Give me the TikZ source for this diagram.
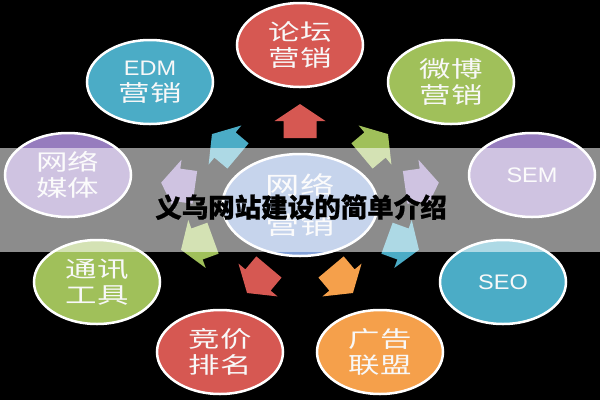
\documentclass[tikz,border=0pt]{standalone}
\usepackage{fontspec}
\usetikzlibrary{shapes.geometric}
\newfontfamily\cjk[FakeStretch=1.4]{Noto Sans CJK SC}
\newfontfamily\cjkt[BoldFeatures={FakeBold=0.8}]{Noto Sans CJK SC}
\newfontfamily\lat[FakeStretch=1.12]{Liberation Sans}
\definecolor{cred}{RGB}{214,88,82}
\definecolor{ccyan}{RGB}{75,172,198}
\definecolor{cgreen}{RGB}{160,192,90}
\definecolor{cpurple}{RGB}{150,124,190}
\definecolor{corange}{RGB}{245,160,75}
\definecolor{cblue}{RGB}{130,160,215}
\definecolor{ctext}{RGB}{248,248,248}
\tikzset{
  bub/.style={ellipse, draw=white, line width=2.5pt, minimum width=126, minimum height=84,
    inner sep=0pt, text=ctext, align=center, font=\cjk\fontsize{22.5}{25.5}\selectfont},
  hub/.style={bub, minimum width=155, minimum height=102, font=\cjk\fontsize{24.5}{40}\selectfont},
  latin/.style={font=\lat\fontsize{21}{25}\selectfont}
}
\newcommand\fatarrow[4]{\begin{scope}[shift={(#1,#2)},rotate=#3]
  \fill[#4] (-17,-16.5) -- (0,-16.5) -- (0,-25.5) -- (17,0) -- (0,25.5) -- (0,16.5) -- (-17,16.5) -- cycle;
\end{scope}}
\begin{document}
\begin{tikzpicture}[x=1pt,y=-1pt]
\fill[black] (0,0) rectangle (600,400);
\useasboundingbox (0,0) rectangle (600,400);
% block arrows from the hub
\fatarrow{300}{121}{90}{cred}
\fatarrow{225}{145}{140}{ccyan}
\fatarrow{375}{145}{40}{cgreen}
\fatarrow{178}{185}{172}{cpurple}
\fatarrow{422}{185}{8}{cpurple}
\fatarrow{197}{244}{200}{cgreen}
\fatarrow{403}{244}{-20}{ccyan}
\fatarrow{258}{280}{230}{cred}
\fatarrow{342}{280}{-50}{corange}
% outer circles
\node[bub, fill=cred] (luntan) at (300,45) {论坛\\营销};
\node[bub, fill=ccyan] (edm) at (150,82) {{\lat\fontsize{21}{25}\selectfont EDM}\\营销};
\node[bub, fill=cgreen] (weibo) at (451,82) {微博\\营销};
\node[bub, fill=cpurple] (meiti) at (68,175) {网络\\媒体};
\node[bub, fill=cpurple, latin] (sem) at (532,175) {SEM};
\node[bub, fill=cgreen] (tongxun) at (97,282) {通讯\\工具};
\node[bub, fill=ccyan, latin] (seo) at (503,282) {SEO};
\node[bub, fill=cred] (jingjia) at (220,352) {竞价\\排名};
\node[bub, fill=corange] (guanggao) at (380,352) {广告\\联盟};
% hub
\node[hub, fill=cblue] (hub) at (300,205) {网络\\营销};
% translucent band and title
\fill[white, opacity=0.55] (0,148) rectangle (600,252);
\node[font=\cjkt\bfseries\fontsize{26.5}{30}\selectfont, text=black, inner sep=0pt] (title) at (301,207) {义乌网站建设的简单介绍};
\end{tikzpicture}
\end{document}
